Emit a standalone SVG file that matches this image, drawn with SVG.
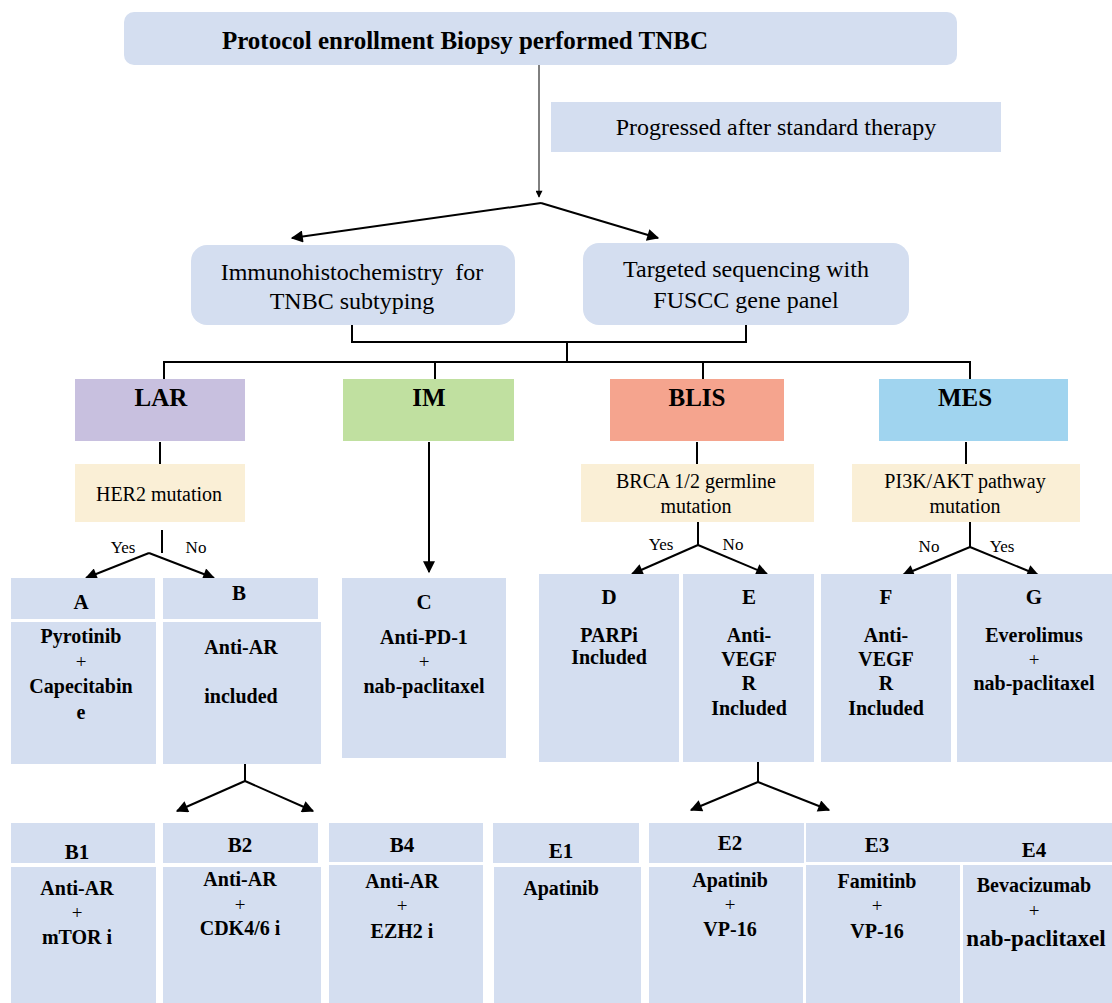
<svg xmlns="http://www.w3.org/2000/svg" width="1112" height="1003" viewBox="0 0 1112 1003">
<defs>
<marker id="ah" viewBox="0 0 10 10" refX="9" refY="5" markerWidth="15" markerHeight="12" markerUnits="userSpaceOnUse" orient="auto"><path d="M0,0 L10,5 L0,10 z" fill="#000"/></marker>
<marker id="ahs" viewBox="0 0 10 10" refX="9" refY="5" markerWidth="13" markerHeight="7" markerUnits="userSpaceOnUse" orient="auto"><path d="M0,0 L10,5 L0,10 z" fill="#000"/></marker>
</defs>
<style>
.bx{fill:#D4DEF0}
.mu{fill:#FAEFD6}
text{font-family:'Liberation Serif','DejaVu Serif',serif}
.t{fill:#000;text-anchor:middle;dominant-baseline:central}
.b{font-weight:bold}
.p{font-weight:normal;font-size:19px}
.s20{font-size:20px}
.s21{font-size:21px}
.s24{font-size:24px}
.s25{font-size:25px}
.yn{font-size:17px}
.ln{stroke:#000;stroke-width:2;fill:none}
</style>
<rect width="1112" height="1003" fill="#fff"/>

<g id="connectors">
<line x1="539" y1="65" x2="539" y2="197" stroke="#000" stroke-width="1" marker-end="url(#ahs)"/>
<line class="ln" x1="541" y1="203" x2="292" y2="238" marker-end="url(#ah)"/>
<line class="ln" x1="541" y1="203" x2="658" y2="238" marker-end="url(#ah)"/>
<polyline class="ln" points="352,321 352,342 746,342 746,322"/>
<line class="ln" x1="567" y1="342" x2="567" y2="362"/>
<polyline class="ln" points="164,379 164,362 970,362 970,379"/>
<line class="ln" x1="435" y1="362" x2="435" y2="379"/>
<line class="ln" x1="703" y1="362" x2="703" y2="379"/>
<line class="ln" x1="160" y1="442" x2="160" y2="464"/>
<line class="ln" x1="697" y1="442" x2="697" y2="464"/>
<line class="ln" x1="966" y1="442" x2="966" y2="464"/>
<line class="ln" x1="429" y1="442" x2="429" y2="572" marker-end="url(#ah)"/>
<line class="ln" x1="162" y1="530" x2="162" y2="553"/>
<line class="ln" x1="149" y1="553" x2="86" y2="578" marker-end="url(#ah)"/>
<line class="ln" x1="149" y1="553" x2="214" y2="578" marker-end="url(#ah)"/>
<line class="ln" x1="698" y1="522" x2="698" y2="545"/>
<line class="ln" x1="698" y1="545" x2="632" y2="574" marker-end="url(#ah)"/>
<line class="ln" x1="698" y1="545" x2="767" y2="574" marker-end="url(#ah)"/>
<line class="ln" x1="970" y1="522" x2="970" y2="547"/>
<line class="ln" x1="970" y1="547" x2="903" y2="575" marker-end="url(#ah)"/>
<line class="ln" x1="970" y1="547" x2="1038" y2="575" marker-end="url(#ah)"/>
<line class="ln" x1="245" y1="756" x2="245" y2="781"/>
<line class="ln" x1="245" y1="781" x2="177" y2="811" marker-end="url(#ah)"/>
<line class="ln" x1="245" y1="781" x2="313" y2="811" marker-end="url(#ah)"/>
<line class="ln" x1="758" y1="757" x2="758" y2="782"/>
<line class="ln" x1="758" y1="782" x2="691" y2="810" marker-end="url(#ah)"/>
<line class="ln" x1="758" y1="782" x2="829" y2="810" marker-end="url(#ah)"/>
<text class="t yn" x="123" y="547">Yes</text>
<text class="t yn" x="196" y="547">No</text>
<text class="t yn" x="661" y="544">Yes</text>
<text class="t yn" x="733" y="544">No</text>
<text class="t yn" x="929" y="546">No</text>
<text class="t yn" x="1002" y="546">Yes</text>
</g>

<g id="top"><rect class="bx" x="124" y="12" width="833" height="53" rx="10"/><text class="t b s25" x="465" y="40">Protocol enrollment Biopsy performed TNBC</text></g>
<g id="progressed"><rect class="bx" x="551" y="102" width="450" height="50"/><text class="t s24" x="776" y="127">Progressed after standard therapy</text></g>
<g id="ihc"><rect class="bx" x="191" y="245" width="324" height="80" rx="16"/><text class="t s24" x="352" y="272" xml:space="preserve">Immunohistochemistry  for</text><text class="t s24" x="352" y="301">TNBC subtyping</text></g>
<g id="seq"><rect class="bx" x="583" y="243" width="326" height="82" rx="16"/><text class="t s24" x="746" y="269">Targeted sequencing with</text><text class="t s24" x="746" y="300">FUSCC gene panel</text></g>

<g id="LAR"><rect x="75" y="379" width="170" height="62" fill="#C8C0DF"/><text class="t b s25" x="161" y="397">LAR</text></g>
<g id="IM"><rect x="343" y="379" width="171" height="62" fill="#C0E0A0"/><text class="t b s25" x="429" y="397">IM</text></g>
<g id="BLIS"><rect x="610" y="379" width="174" height="62" fill="#F5A48E"/><text class="t b s25" x="697" y="397">BLIS</text></g>
<g id="MES"><rect x="879" y="379" width="189" height="62" fill="#A0D4EF"/><text class="t b s25" x="965" y="397">MES</text></g>

<g id="her2"><rect class="mu" x="75" y="464" width="170" height="58"/><text class="t s20" x="159" y="494">HER2 mutation</text></g>
<g id="brca"><rect class="mu" x="581" y="464" width="233" height="58"/><text class="t s20" x="696" y="481">BRCA 1/2 germline</text><text class="t s20" x="696" y="506">mutation</text></g>
<g id="pi3k"><rect class="mu" x="852" y="464" width="228" height="58"/><text class="t s20" x="965" y="481">PI3K/AKT pathway</text><text class="t s20" x="965" y="506">mutation</text></g>

<g id="A"><rect class="bx" x="11" y="578" width="144" height="41"/><text class="t b s21" x="81" y="602">A</text><rect class="bx" x="11" y="622" width="145" height="142"/><text class="t b s20" x="81" y="636">Pyrotinib</text><text class="t p" x="81" y="661">+</text><text class="t b s20" x="81" y="686">Capecitabin</text><text class="t b s20" x="81" y="712">e</text></g>
<g id="B"><rect class="bx" x="163" y="578" width="155" height="41"/><text class="t b s21" x="239" y="593">B</text><rect class="bx" x="163" y="622" width="158" height="142"/><text class="t b s20" x="241" y="647">Anti-AR</text><text class="t b s20" x="241" y="696">included</text></g>
<g id="C"><rect class="bx" x="342" y="578" width="164" height="180"/><text class="t b s21" x="424" y="602">C</text><text class="t b s20" x="424" y="637">Anti-PD-1</text><text class="t p" x="424" y="661">+</text><text class="t b s20" x="424" y="686">nab-paclitaxel</text></g>
<g id="D"><rect class="bx" x="539" y="574" width="140" height="188"/><text class="t b s21" x="609" y="597">D</text><text class="t b s20" x="609" y="635">PARPi</text><text class="t b s20" x="609" y="657">Included</text></g>
<g id="E"><rect class="bx" x="683" y="574" width="131" height="188"/><text class="t b s21" x="749" y="597">E</text><text class="t b s20" x="749" y="635">Anti-</text><text class="t b s20" x="749" y="659">VEGF</text><text class="t b s20" x="749" y="683">R</text><text class="t b s20" x="749" y="708">Included</text></g>
<g id="F"><rect class="bx" x="821" y="574" width="130" height="188"/><text class="t b s21" x="886" y="597">F</text><text class="t b s20" x="886" y="635">Anti-</text><text class="t b s20" x="886" y="659">VEGF</text><text class="t b s20" x="886" y="683">R</text><text class="t b s20" x="886" y="708">Included</text></g>
<g id="G"><rect class="bx" x="957" y="574" width="155" height="188"/><text class="t b s21" x="1034" y="597">G</text><text class="t b s20" x="1034" y="635">Everolimus</text><text class="t p" x="1034" y="659">+</text><text class="t b s20" x="1034" y="683">nab-paclitaxel</text></g>

<g id="B1"><rect class="bx" x="11" y="823" width="144" height="40"/><text class="t b s21" x="77" y="852">B1</text><rect class="bx" x="11" y="867" width="145" height="136"/><text class="t b s20" x="77" y="888">Anti-AR</text><text class="t p" x="77" y="912">+</text><text class="t b s20" x="77" y="937">mTOR i</text></g>
<g id="B2"><rect class="bx" x="163" y="823" width="155" height="40"/><text class="t b s21" x="240" y="845">B2</text><rect class="bx" x="163" y="867" width="158" height="136"/><text class="t b s20" x="240" y="879">Anti-AR</text><text class="t p" x="240" y="904">+</text><text class="t b s20" x="240" y="928">CDK4/6 i</text></g>
<g id="B4"><rect class="bx" x="329" y="823" width="154" height="39"/><text class="t b s21" x="402" y="845">B4</text><rect class="bx" x="329" y="865" width="154" height="138"/><text class="t b s20" x="402" y="881">Anti-AR</text><text class="t p" x="402" y="905">+</text><text class="t b s20" x="402" y="931">EZH2 i</text></g>
<g id="E1"><rect class="bx" x="493" y="823" width="146" height="40"/><text class="t b s21" x="561" y="851">E1</text><rect class="bx" x="494" y="867" width="147" height="136"/><text class="t b s20" x="561" y="888">Apatinib</text></g>
<g id="E2"><rect class="bx" x="649" y="823" width="155" height="40"/><text class="t b s21" x="730" y="843">E2</text><rect class="bx" x="649" y="867" width="154" height="136"/><text class="t b s20" x="730" y="880">Apatinib</text><text class="t p" x="730" y="904">+</text><text class="t b s20" x="730" y="929">VP-16</text></g>
<g id="E3E4hdr"><rect class="bx" x="806" y="823" width="306" height="39"/><text class="t b s21" x="877" y="845">E3</text><text class="t b s21" x="1034" y="850">E4</text></g>
<g id="E3"><rect class="bx" x="806" y="865" width="154" height="138"/><text class="t b s20" x="877" y="881">Famitinb</text><text class="t p" x="877" y="905">+</text><text class="t b s20" x="877" y="931">VP-16</text></g>
<g id="E4"><rect class="bx" x="963" y="865" width="149" height="138"/><text class="t b s20" x="1034" y="885">Bevacizumab</text><text class="t p" x="1034" y="910">+</text><text class="t b" x="1036" y="938" style="font-size:23px">nab-paclitaxel</text></g>
</svg>
